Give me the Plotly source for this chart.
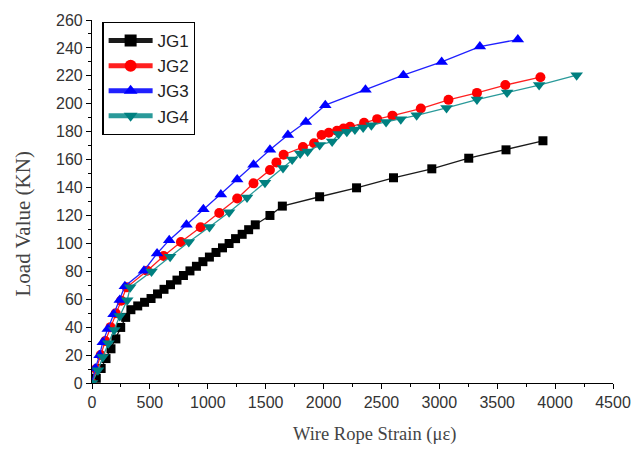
import plotly.graph_objects as go

# JG1 (black squares)
jg1_strain = [0, 37, 79, 121, 164, 206, 248, 291, 336, 395, 454, 510, 566, 622, 678, 734, 790,
              846, 902, 958, 1014, 1071, 1127, 1184, 1240, 1297, 1353, 1410, 1537, 1644,
              1966, 2285, 2604, 2935, 3254, 3576, 3895]
jg1_load = [0, 3.4, 10.4, 17.5, 24.5, 31.6, 39.8, 47, 52.5, 55.2, 57.8, 60.5, 63.8, 67.1, 70.4, 73.7, 77,
            80.3, 83.6, 86.9, 90.2, 93.5, 96.8, 99.9, 103.4, 106.5, 109.8, 113.3, 120, 126.7,
            133.4, 139.8, 147, 153.4, 161, 167, 173.5]
# JG2 (red circles)
jg2_strain = [0, 35, 75, 115, 160, 205, 252, 300, 477, 619, 768, 938, 1099, 1254, 1395, 1537,
              1593, 1655, 1822, 1918, 1983, 2045, 2116, 2172, 2229, 2350, 2463, 2595, 2840,
              3079, 3325, 3570, 3873]
jg2_load = [0, 10, 20, 30, 40, 50, 59, 68.5, 80.4, 91, 101, 111.5, 121.8, 132.2, 143, 152.6,
            158, 163.5, 169, 171.7, 177.6, 179.3, 180.7, 182.3, 183.5, 186.4, 189, 191.5, 196.6,
            202.8, 207.8, 213.4, 219]
# JG3 (blue triangles)
jg3_strain = [0, 28, 65, 93, 136, 186, 240, 284, 449, 562, 667, 816, 962, 1113, 1254, 1395,
              1537, 1692, 1847, 2015, 2362, 2689, 3020, 3350, 3678]
jg3_load = [0, 10.4, 19.8, 29.2, 38.6, 49.2, 59.5, 69.3, 80.4, 92.8, 102.3, 113.3, 124.5, 135,
            145.8, 156.4, 167, 177.6, 187, 199, 210, 220.5, 230, 241, 246]
# JG4 (teal down-triangles)
jg4_strain = [0, 51, 93, 141, 192, 240, 304, 330, 514, 675, 836, 1014, 1184, 1339, 1494, 1650,
              1729, 1798, 1862, 1966, 2074, 2130, 2201, 2271, 2342, 2413, 2540, 2667, 2804,
              3062, 3325, 3585, 3862, 4186]
jg4_load = [0, 9.2, 18.6, 28.5, 38, 48, 59.3, 68.5, 79.9, 90.5, 101, 111.7, 122.3, 132.9, 143.5,
            154, 160, 164.4, 165.8, 170.5, 172.9, 178.3, 180, 181.6, 183, 184.7, 187, 189, 191.7,
            197, 203, 208, 213.4, 220.5]

x_ticks = [0, 500, 1000, 1500, 2000, 2500, 3000, 3500, 4000, 4500]
y_ticks = [0, 20, 40, 60, 80, 100, 120, 140, 160, 180, 200, 220, 240, 260]

series = [
    ("JG1", jg1_strain, jg1_load, "#000000", "#1a1a1a", "square", 9),
    ("JG2", jg2_strain, jg2_load, "#FF0000", "#FF2020", "circle", 10),
    ("JG3", jg3_strain, jg3_load, "#0000FF", "#2020FF", "triangle-up", 11),
    ("JG4", jg4_strain, jg4_load, "#008080", "#2a9a9a", "triangle-down", 11),
]

fig = go.Figure()
for name, xs, ys, mcol, lcol, sym, sz in series:
    fig.add_trace(go.Scatter(
        x=xs, y=ys, name=name, mode="lines+markers",
        line=dict(color=lcol, width=1.3),
        marker=dict(symbol=sym, size=sz, color=mcol, line=dict(width=0)),
    ))

tickfont = dict(family="Liberation Sans, Arial, sans-serif", size=16, color="#333333")
fig.update_layout(
    width=643, height=449,
    margin=dict(l=92, r=20, t=15, b=66),
    paper_bgcolor="white", plot_bgcolor="white",
    showlegend=True,
    legend=dict(
        x=0.02, y=0.995, xanchor="left", yanchor="top",
        bordercolor="#000000", borderwidth=1.2, bgcolor="white",
        font=dict(family="Liberation Sans, Arial, sans-serif", size=17, color="#222222"),
        tracegroupgap=0, itemsizing="constant", itemwidth=44,
    ),
    xaxis=dict(
        range=[0, 4500], tickvals=x_ticks, ticktext=[str(v) for v in x_ticks],
        showline=True, linecolor="#000000", linewidth=1.2, mirror=False,
        ticks="outside", ticklen=5, tickcolor="#000000", tickwidth=1.2,
        showgrid=False, zeroline=False, tickfont=tickfont,
        minor=dict(ticks="outside", ticklen=3, dtick=250, tickcolor="#000000", tickwidth=1.2, showgrid=False),
    ),
    yaxis=dict(
        range=[0, 260], tickvals=y_ticks, ticktext=[str(v) for v in y_ticks],
        showline=True, linecolor="#000000", linewidth=1.2, mirror=False,
        ticks="outside", ticklen=5, tickcolor="#000000", tickwidth=1.2,
        showgrid=False, zeroline=False, tickfont=tickfont,
        minor=dict(ticks="outside", ticklen=3, dtick=10, tickcolor="#000000", tickwidth=1.2, showgrid=False),
    ),
    annotations=[
        dict(text="Wire Rope Strain (\u03bc\u03b5)", xref="paper", yref="paper",
             x=(380 - 92) / 531, y=-(435 - 383) / 368, xanchor="center", yanchor="middle",
             showarrow=False, font=dict(family="Liberation Serif, Times New Roman, serif", size=18.5, color="#444444")),
        dict(text="Load Value (KN)", xref="paper", yref="paper", textangle=-90,
             x=-(92 - 22) / 531, y=(383 - 222) / 368, xanchor="center", yanchor="middle",
             showarrow=False, font=dict(family="Liberation Serif, Times New Roman, serif", size=21, color="#444444")),
    ],
)

fig.write_html(
    "out.html",
    config={"displayModeBar": False},
    post_script="document.body.style.margin='0';document.body.style.padding='0';"
                "document.documentElement.style.overflow='hidden';",
)
